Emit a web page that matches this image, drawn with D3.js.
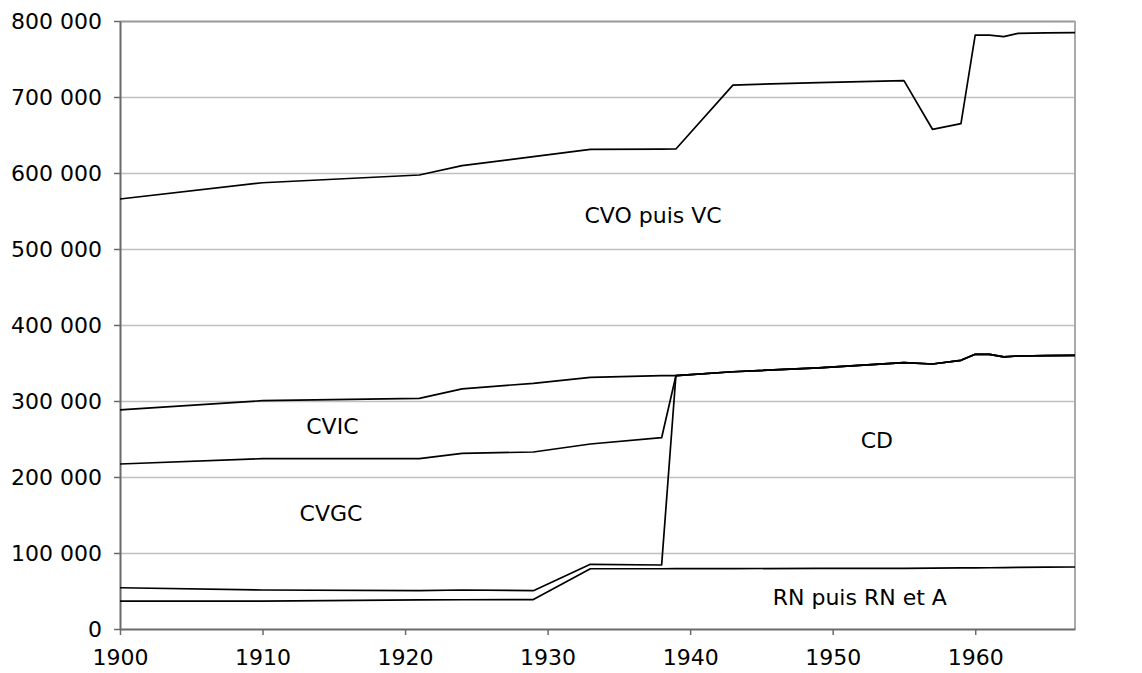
<!DOCTYPE html>
<html>
<head>
<meta charset="utf-8">
<script src="https://cdn.jsdelivr.net/npm/d3@7"></script>
<style>
  body { margin: 0; background: #fff; }
  text { font-family: Verdana, "DejaVu Sans", sans-serif; fill: #000; }
</style>
</head>
<body>
<div id="chart"></div>
<script>
//============Data (cumulated totals, km)=====================
var years = [1900, 1910, 1921, 1924, 1929, 1933, 1938, 1939, 1943, 1949, 1955, 1957, 1959, 1960, 1961, 1962, 1963, 1965, 1967];

// RN puis RN et A
var rnTop   = [36800, 36800, 38200, 38500, 38700, 79300, 79300, 79400, 79500, 79700, 79900, 80100, 80300, 80500, 80600, 80700, 81000, 81300, 81600];
// + CD
var cdTop   = [54300, 51300, 50400, 51300, 50400, 85100, 84200, 333300, 338500, 343500, 350400, 348700, 353500, 361400, 361400, 358100, 359200, 359800, 360100];
// + CVGC
var cvgcTop = [217100, 224100, 224100, 231000, 232900, 243400, 251700, 333300, 338500, 343500, 350400, 348700, 353500, 361400, 361400, 358100, 359200, 359800, 360100];
// + CVIC
var cvicTop = [288200, 300400, 303500, 316000, 323300, 331200, 333300, 333300, 338500, 343500, 350400, 348700, 353500, 361400, 361400, 358100, 359200, 359800, 360100];
// + CVO puis VC
var cvoTop  = [565800, 587200, 597400, 609600, 621600, 631200, 631500, 631600, 715700, 719000, 721500, 657500, 665000, 781600, 781300, 779400, 783800, 784300, 784600];

var xTicks = [1900, 1910, 1920, 1930, 1940, 1950, 1960];
var yTicks = [0, 100000, 200000, 300000, 400000, 500000, 600000, 700000, 800000];

var areaLabels = ["CVO puis VC", "CVIC", "CD", "CVGC", "RN puis RN et A"];
var labelYears = [1937.4, 1914.9, 1953.1, 1914.8, 1951.9];
var labelValues = [534000, 256000, 238000, 142000, 31500];

//============Set up chart=====================
var svgWidth = 1142;
var svgHeight = 673;

var margin = { top: 21, right: 67, bottom: 44, left: 120 };

var width = svgWidth - margin.left - margin.right;
var height = svgHeight - margin.top - margin.bottom;

var svg = d3.select("#chart")
  .append("svg")
  .attr("width", svgWidth)
  .attr("height", svgHeight);

var chartGroup = svg.append("g")
  .attr("transform", `translate(${margin.left}, ${margin.top})`);

var xScale = d3.scaleLinear().domain([1900, 1967]).range([0, width]);
var yScale = d3.scaleLinear().domain([0, 800000]).range([height, 0]);

var frFormat = d3.formatLocale({ decimal: ",", thousands: " ", grouping: [3], currency: ["", " €"] }).format(",d");

// gridlines
chartGroup.append("g")
  .selectAll("line")
  .data(yTicks.slice(1))
  .enter()
  .append("line")
  .attr("x1", 0)
  .attr("x2", width)
  .attr("y1", d => Math.round(yScale(d)) + 0.5)
  .attr("y2", d => Math.round(yScale(d)) + 0.5)
  .attr("stroke", d => d === 800000 ? "#999" : "#c0c0c0")
  .attr("stroke-width", d => d === 800000 ? 2 : 1.5);

// right border
chartGroup.append("line")
  .attr("x1", width).attr("x2", width)
  .attr("y1", 0).attr("y2", height)
  .attr("stroke", "#aaa")
  .attr("stroke-width", 2);

// axes
var bottomAxis = d3.axisBottom(xScale).tickValues(xTicks).tickFormat(d3.format("d")).tickSizeInner(6).tickSizeOuter(0).tickPadding(14);
var leftAxis = d3.axisLeft(yScale).tickValues(yTicks).tickFormat(frFormat).tickSizeInner(6).tickSizeOuter(0).tickPadding(12);

var xAxis = chartGroup.append("g")
  .attr("transform", `translate(0, ${height})`)
  .call(bottomAxis);

var yAxis = chartGroup.append("g")
  .call(leftAxis);

[xAxis, yAxis].forEach(function(ax) {
  ax.select(".domain").attr("stroke", "#6a6a6a").attr("stroke-width", 2);
  ax.selectAll(".tick line").attr("stroke", "#6a6a6a").attr("stroke-width", 1.5);
  ax.selectAll(".tick text").style("font-size", "22px").attr("fill", "#000");
});
yAxis.selectAll(".tick text").attr("dy", "0.36em");

//============Draw the lines=====================
var lineGen = d3.line()
  .x((d, i) => xScale(years[i]))
  .y(d => yScale(d));

[rnTop, cdTop, cvgcTop, cvicTop, cvoTop].forEach(function(series) {
  chartGroup.append("path")
    .datum(series)
    .attr("fill", "none")
    .attr("stroke", "#000")
    .attr("stroke-width", 1.7)
    .attr("stroke-linejoin", "round")
    .attr("d", lineGen);
});

//============Area labels=====================
chartGroup.append("g")
  .selectAll("text")
  .data(areaLabels)
  .enter()
  .append("text")
  .attr("x", (d, i) => xScale(labelYears[i]))
  .attr("y", (d, i) => yScale(labelValues[i]))
  .attr("text-anchor", "middle")
  .style("font-size", "22px")
  .text(d => d);
</script>
</body>
</html>
